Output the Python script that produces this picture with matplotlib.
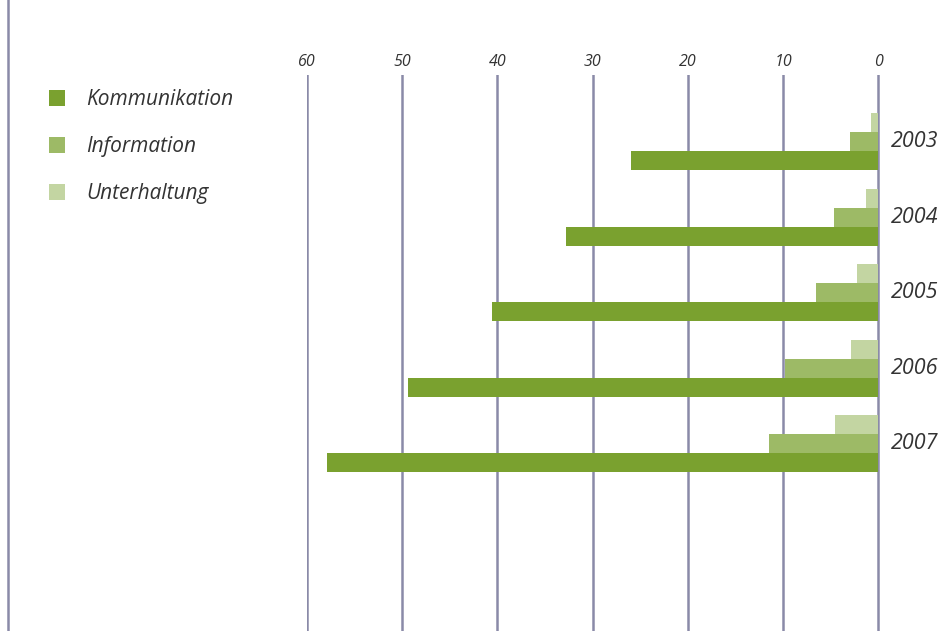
import matplotlib.pyplot as plt
from matplotlib.lines import Line2D

years = ['2003', '2004', '2005', '2006', '2007']
kommunikation = [26.0, 32.8, 40.6, 49.4, 57.9]
information = [3.0, 4.7, 6.6, 9.8, 11.5]
unterhaltung = [0.8, 1.3, 2.2, 2.9, 4.6]
series_names = ['Kommunikation', 'Information', 'Unterhaltung']
colors = ['#7aa12f', '#9dba66', '#c3d5a2']
ticks = [60, 50, 40, 30, 20, 10, 0]

plt.rcParams['font.family'] = ['Open Sans', 'DejaVu Sans']
grid_color = '#8a8aa8'
text_color = '#333333'

fig = plt.figure(figsize=(9.4, 6.31), dpi=100)
ax = fig.add_axes([0.3266, 0.0, 0.615, 0.881])

pos = list(range(len(years)))
h = 0.252
ax.barh([p + h for p in pos], kommunikation, height=h, color=colors[0], label=series_names[0], zorder=3)
ax.barh(pos, information, height=h, color=colors[1], label=series_names[1], zorder=3)
ax.barh([p - h for p in pos], unterhaltung, height=h, color=colors[2], label=series_names[2], zorder=3)

ax.set_xlim(60, -0.7)
ax.set_ylim(6.483, -0.881)
for t in ticks:
    ax.axvline(t, color=grid_color, lw=1.8, zorder=1)

ax.xaxis.tick_top()
ax.set_xticks(ticks)
ax.set_xticklabels([str(t) for t in ticks], style='italic', fontsize=11.5, color=text_color)
ax.tick_params(axis='x', length=0, pad=4)
ax.set_yticks([])
for s in ax.spines.values():
    s.set_visible(False)

for p, y in zip(pos, years):
    ax.text(1.01, p, y, transform=ax.get_yaxis_transform(), ha='left', va='center',
            style='italic', fontsize=15.5, color=text_color)

fig.add_artist(Line2D([8 / 940, 8 / 940], [0, 1], color=grid_color, lw=1.8))

leg = fig.legend(loc='upper left', bbox_to_anchor=(0.032, 0.889), frameon=False,
                 handlelength=0.8, handleheight=0.8, handletextpad=1.0, labelspacing=1.26,
                 prop={'style': 'italic', 'size': 15})
for t in leg.get_texts():
    t.set_color(text_color)

fig.savefig('out.png', dpi=100)
